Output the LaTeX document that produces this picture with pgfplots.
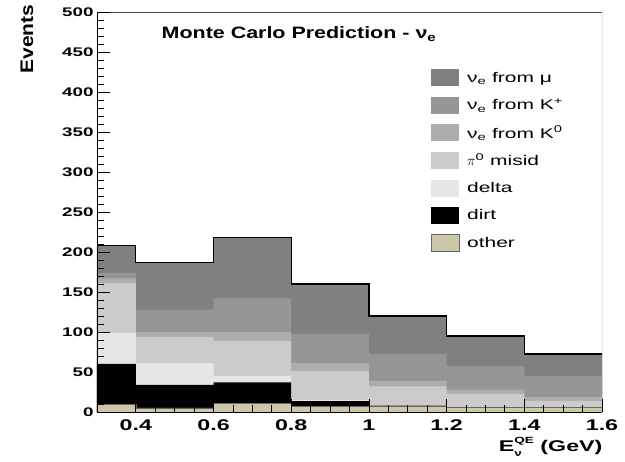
\documentclass[border=0pt]{standalone}
\usepackage{pgfplots}
\pgfplotsset{compat=1.18}
\usepackage{fontspec}
\setmainfont{Liberation Sans}[FakeStretch=1.5]
\newfontfamily\ttlfont{Liberation Sans}[FakeStretch=1.3]
\definecolor{cmu}{RGB}{128,128,128}
\definecolor{ckp}{RGB}{150,150,150}
\definecolor{ckz}{RGB}{173,173,173}
\definecolor{cpi}{RGB}{203,203,203}
\definecolor{cdelta}{RGB}{230,230,230}
\definecolor{cdirt}{RGB}{0,0,0}
\definecolor{cother}{RGB}{205,199,170}
\begin{document}
\begin{tikzpicture}[x=1pt,y=1pt]
\path[use as bounding box] (0,0) rectangle (625,462);
\begin{axis}[
  at={(97pt,50pt)}, anchor=south west,
  scale only axis, width=505pt, height=400pt,
  xmin=0.3, xmax=1.6, ymin=0, ymax=500,
  axis x line*=bottom, axis y line*=left,
  axis line style={black, line width=0.8pt},
  tick align=inside,
  xtick={0.4,0.6,0.8,1,1.2,1.4,1.6},
  minor x tick num=3,
  ytick={0,50,100,150,200,250,300,350,400,450,500},
  minor y tick num=4,
  major tick length=13pt, minor tick length=7pt,
  every tick/.style={black, line width=0.8pt},
  /pgf/number format/assume math mode=true,
  yticklabel style={font=\bfseries\fontsize{12.5}{13}\selectfont},
  xticklabel style={font=\bfseries\fontsize{15.5}{16}\selectfont, yshift=-4pt},
  axis on top,
  legend style={at={(0.661,0.857)}, anchor=north west, draw=none, fill=none,
    inner sep=0pt, row sep=10.3pt, column sep=6pt,
    font=\fontsize{14}{14}\selectfont},
  legend cell align=left,
  legend image code/.code={\fill[#1] (0pt,-8.5pt) rectangle (27.5pt,8.5pt);},
]
% cumulative stack heights per bin (bins 0.3-0.4, 0.4-0.6, ..., 1.4-1.6)
\addplot[const plot, fill=cmu, draw=none] coordinates {(0.3,208) (0.4,187) (0.6,218) (0.8,160) (1.0,120) (1.2,95) (1.4,72.5) (1.6,72.5)} \closedcycle;
\addlegendentry{ν\textsubscript{e} from μ}
\addplot[const plot, fill=ckp, draw=none] coordinates {(0.3,174) (0.4,128) (0.6,142) (0.8,98) (1.0,72.5) (1.2,57.5) (1.4,45) (1.6,45)} \closedcycle;
\addlegendentry{ν\textsubscript{e} from K\textsuperscript{+}}
\addplot[const plot, fill=ckz, draw=none] coordinates {(0.3,167) (0.4,100) (0.6,100) (0.8,61) (1.0,39) (1.2,28) (1.4,19) (1.6,19)} \closedcycle;
\addlegendentry{ν\textsubscript{e} from K\textsuperscript{0}}
\addplot[const plot, fill=cpi, draw=none] coordinates {(0.3,161) (0.4,94) (0.6,89) (0.8,51) (1.0,32) (1.2,22.5) (1.4,14) (1.6,14)} \closedcycle;
\addlegendentry{$\pi$\textsuperscript{0} misid}
\addplot[const plot, fill=cdelta, draw=none] coordinates {(0.3,99) (0.4,61) (0.6,45) (0.8,15) (1.0,9) (1.2,6.5) (1.4,6.5) (1.6,6.5)} \closedcycle;
\addlegendentry{delta}
\addplot[const plot, fill=cdirt, draw=none] coordinates {(0.3,60) (0.4,34) (0.6,37) (0.8,13.5) (1.0,8) (1.2,6) (1.4,6) (1.6,6)} \closedcycle;
\addlegendentry{dirt}
\addplot[const plot, fill=cother, draw=black!60, line width=0.6pt] coordinates {(0.3,9) (0.4,5) (0.6,11) (0.8,7) (1.0,7) (1.2,6) (1.4,6) (1.6,6)} \closedcycle;
\addlegendentry{other}
\addplot[const plot, black, line width=1.2pt, forget plot] coordinates {(0.3,208) (0.4,187) (0.6,218) (0.8,160) (1.0,120) (1.2,95) (1.4,72.5) (1.6,72.5)};
\draw[black!70, line width=0.8pt] (rel axis cs:0,1) -- (rel axis cs:1,1) -- (rel axis cs:1,0);
\node[font=\ttlfont\bfseries\fontsize{16.5}{18}\selectfont] at (rel axis cs:0.40,0.945) {Monte Carlo Prediction - ν\textsubscript{e}};
\end{axis}
\node[rotate=90, font=\bfseries\fontsize{14}{14}\selectfont] at (27,423) {\scalebox{1}[1.3]{Events}};
\node[anchor=east, font=\bfseries\fontsize{15.5}{16}\selectfont] at (606,15) {E\rlap{\raisebox{-0.35em}{\fontsize{9}{9}\selectfont ν}}\raisebox{0.5em}{\fontsize{9}{9}\selectfont QE} (GeV)};
\end{tikzpicture}
\end{document}
